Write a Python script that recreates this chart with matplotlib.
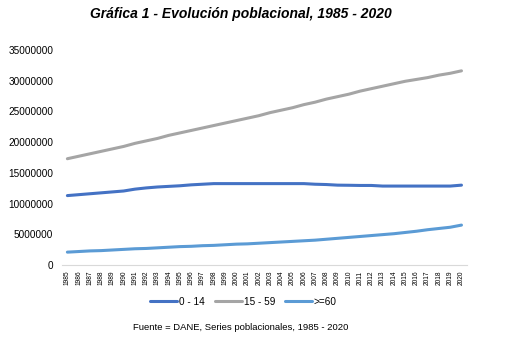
import numpy as np
import matplotlib.pyplot as plt

years = list(range(1985, 2021))
g0_14 = [11.30, 11.45, 11.60, 11.75, 11.90, 12.05, 12.35, 12.55, 12.70, 12.80,
         12.90, 13.05, 13.15, 13.25, 13.25, 13.25, 13.25, 13.25, 13.25, 13.25,
         13.25, 13.25, 13.15, 13.10, 13.00, 12.98, 12.95, 12.95, 12.85, 12.85,
         12.85, 12.85, 12.85, 12.85, 12.85, 13.00]
g15_59 = [17.3, 17.7, 18.1, 18.5, 18.9, 19.3, 19.8, 20.2, 20.6, 21.1,
          21.5, 21.9, 22.3, 22.7, 23.1, 23.5, 23.9, 24.3, 24.8, 25.2,
          25.6, 26.1, 26.5, 27.0, 27.4, 27.8, 28.3, 28.7, 29.1, 29.5,
          29.9, 30.2, 30.5, 30.9, 31.2, 31.6]
g60 = [2.10, 2.20, 2.30, 2.35, 2.45, 2.55, 2.65, 2.70, 2.80, 2.90,
       3.00, 3.05, 3.15, 3.20, 3.30, 3.40, 3.45, 3.55, 3.65, 3.75,
       3.85, 3.95, 4.05, 4.20, 4.35, 4.50, 4.65, 4.80, 4.95, 5.10,
       5.30, 5.50, 5.75, 5.95, 6.15, 6.50]
labels = ['0 - 14', '15 - 59', '>=60']
colors = ['#4472C4', '#A5A5A5', '#5B9BD5']
yticks = [0, 5000000, 10000000, 15000000, 20000000, 25000000, 30000000, 35000000]

plt.rcParams['font.family'] = ['Liberation Sans', 'DejaVu Sans']

fig = plt.figure(figsize=(5.19, 3.42), dpi=100)
ax = fig.add_axes([0.119, 0.225, 0.781, 0.629])

x = np.arange(len(years))
for vals, lab, c in zip([g0_14, g15_59, g60], labels, colors):
    ax.plot(x, np.array(vals) * 1e6, color=c, lw=2.2, label=lab,
            solid_capstyle='round')

ax.set_xlim(-0.5, len(years) - 0.5)
ax.set_ylim(0, 35000000)
ax.set_yticks(yticks)
ax.set_yticklabels([str(t) for t in yticks], fontsize=7.2)
ax.set_xticks(x)
ax.set_xticklabels([str(y) for y in years], rotation=90, fontsize=4.8)
ax.tick_params(length=0, pad=4)
ax.tick_params(axis='y', pad=6)
for s in ['top', 'right', 'left']:
    ax.spines[s].set_visible(False)
ax.spines['bottom'].set_color('#D9D9D9')

fig.text(0.464, 0.96, 'Gráfica 1 - Evolución poblacional, 1985 - 2020',
         ha='center', va='center', fontsize=10, fontweight='bold',
         fontstyle='italic')
fig.legend(loc='center', bbox_to_anchor=(0.469, 0.117), ncol=3, frameon=False,
           fontsize=7.2, handlelength=2.7, columnspacing=1.0, handletextpad=0.2)
fig.text(0.256, 0.041, 'Fuente = DANE, Series poblacionales, 1985 - 2020',
         ha='left', va='center', fontsize=6.8)

fig.savefig('out.png', dpi=100)
